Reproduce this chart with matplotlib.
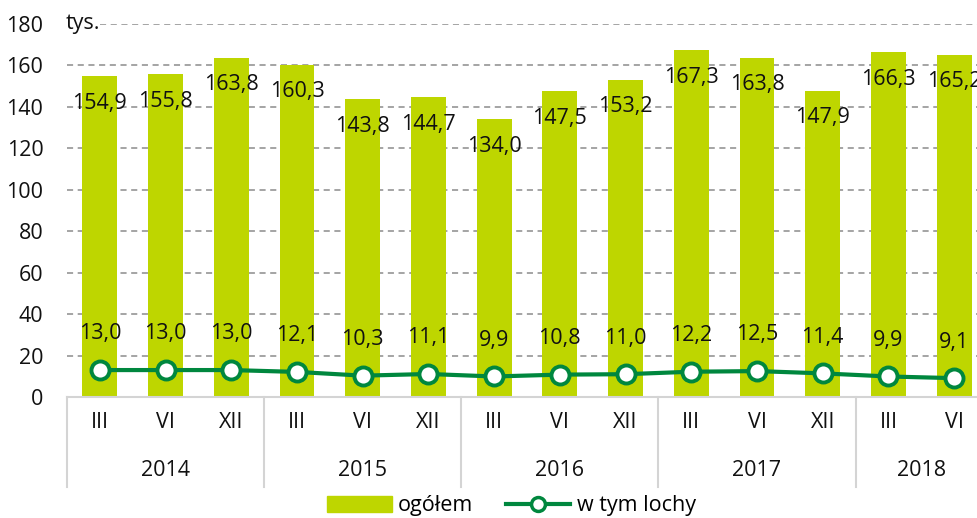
import matplotlib
matplotlib.use("Agg")
import matplotlib.pyplot as plt
from matplotlib.lines import Line2D
from matplotlib.patches import Patch

plt.rcParams["font.family"] = ["Open Sans", "DejaVu Sans"]

months = ["III", "VI", "XII", "III", "VI", "XII", "III", "VI", "XII",
          "III", "VI", "XII", "III", "VI"]
years = ["2014", "2015", "2016", "2017", "2018"]
year_counts = [3, 3, 3, 3, 2]
total = [154.9, 155.8, 163.8, 160.3, 143.8, 144.7, 134.0, 147.5, 153.2,
         167.3, 163.8, 147.9, 166.3, 165.2]
sows = [13.0, 13.0, 13.0, 12.1, 10.3, 11.1, 9.9, 10.8, 11.0,
        12.2, 12.5, 11.4, 9.9, 9.1]

BAR = "#bed600"
LINE = "#00873e"
GRID = "#8c8c8c"
AXIS = "#d4d4d4"
FS = 15.5

fig = plt.figure(figsize=(9.78, 5.18), dpi=100)
ax = fig.add_axes([67 / 978, 1 - 397 / 518, 920 / 978, 373 / 518])

x = list(range(len(total)))
ax.bar(x, total, width=0.53, color=BAR, zorder=2)
ax.plot(x, sows, color=LINE, lw=3, marker="o", ms=13, mfc="white",
        mec=LINE, mew=2.8, zorder=4)

for xi, v in zip(x, total):
    ax.annotate(f"{v:.1f}".replace(".", ","), (xi, v), xytext=(0, -19.5),
                textcoords="offset points", ha="center", va="center",
                fontsize=FS, color="#111111", zorder=5)
for xi, v in zip(x, sows):
    ax.annotate(f"{v:.1f}".replace(".", ","), (xi, v), xytext=(0, 26),
                textcoords="offset points", ha="center", va="center",
                fontsize=FS, color="#111111", zorder=5)

ax.set_xlim(-0.5, len(total) - 0.5)
ax.set_ylim(0, 180)
ax.set_yticks(range(0, 181, 20))
for t in range(20, 181, 20):
    start = (100 - 67) / 920 if t == 180 else 0
    ax.axhline(t, xmin=start, color=GRID, lw=1.1, ls=(0, (4, 3)), zorder=1)

for s in ["top", "right", "left"]:
    ax.spines[s].set_visible(False)
ax.spines["bottom"].set_color(AXIS)
ax.spines["bottom"].set_linewidth(1.5)

ax.tick_params(axis="y", length=0, pad=17, labelsize=FS, labelcolor="#111111")
ax.set_xticks(x)
ax.set_xticklabels(months)
ax.tick_params(axis="x", length=0, pad=11, labelsize=FS, labelcolor="#111111")

ax.text(-0.001, 1.0, "tys.", transform=ax.transAxes, ha="left",
        va="center", fontsize=FS, color="#111111")

trans = ax.get_xaxis_transform()
pos = -0.5
for yr, n in zip(years, year_counts):
    ax.plot([pos, pos], [0, -90 / 373], transform=trans, color=AXIS, lw=1.5,
            clip_on=False)
    ax.text(pos + n / 2, -74 / 373, yr, transform=trans, ha="center",
            va="center", fontsize=FS, color="#111111")
    pos += n

handles = [Patch(color=BAR, label="ogółem"),
           Line2D([], [], color=LINE, lw=3, marker="o", ms=10, mfc="white",
                  mec=LINE, mew=2.5, label="w tym lochy")]
fig.legend(handles=handles, loc="center", bbox_to_anchor=(0.523, 1 - 506 / 518),
           ncol=2, frameon=False, fontsize=FS, handlelength=3.0,
           handleheight=0.8, handletextpad=0.3, columnspacing=1.5)

fig.savefig("out.png", dpi=100)
